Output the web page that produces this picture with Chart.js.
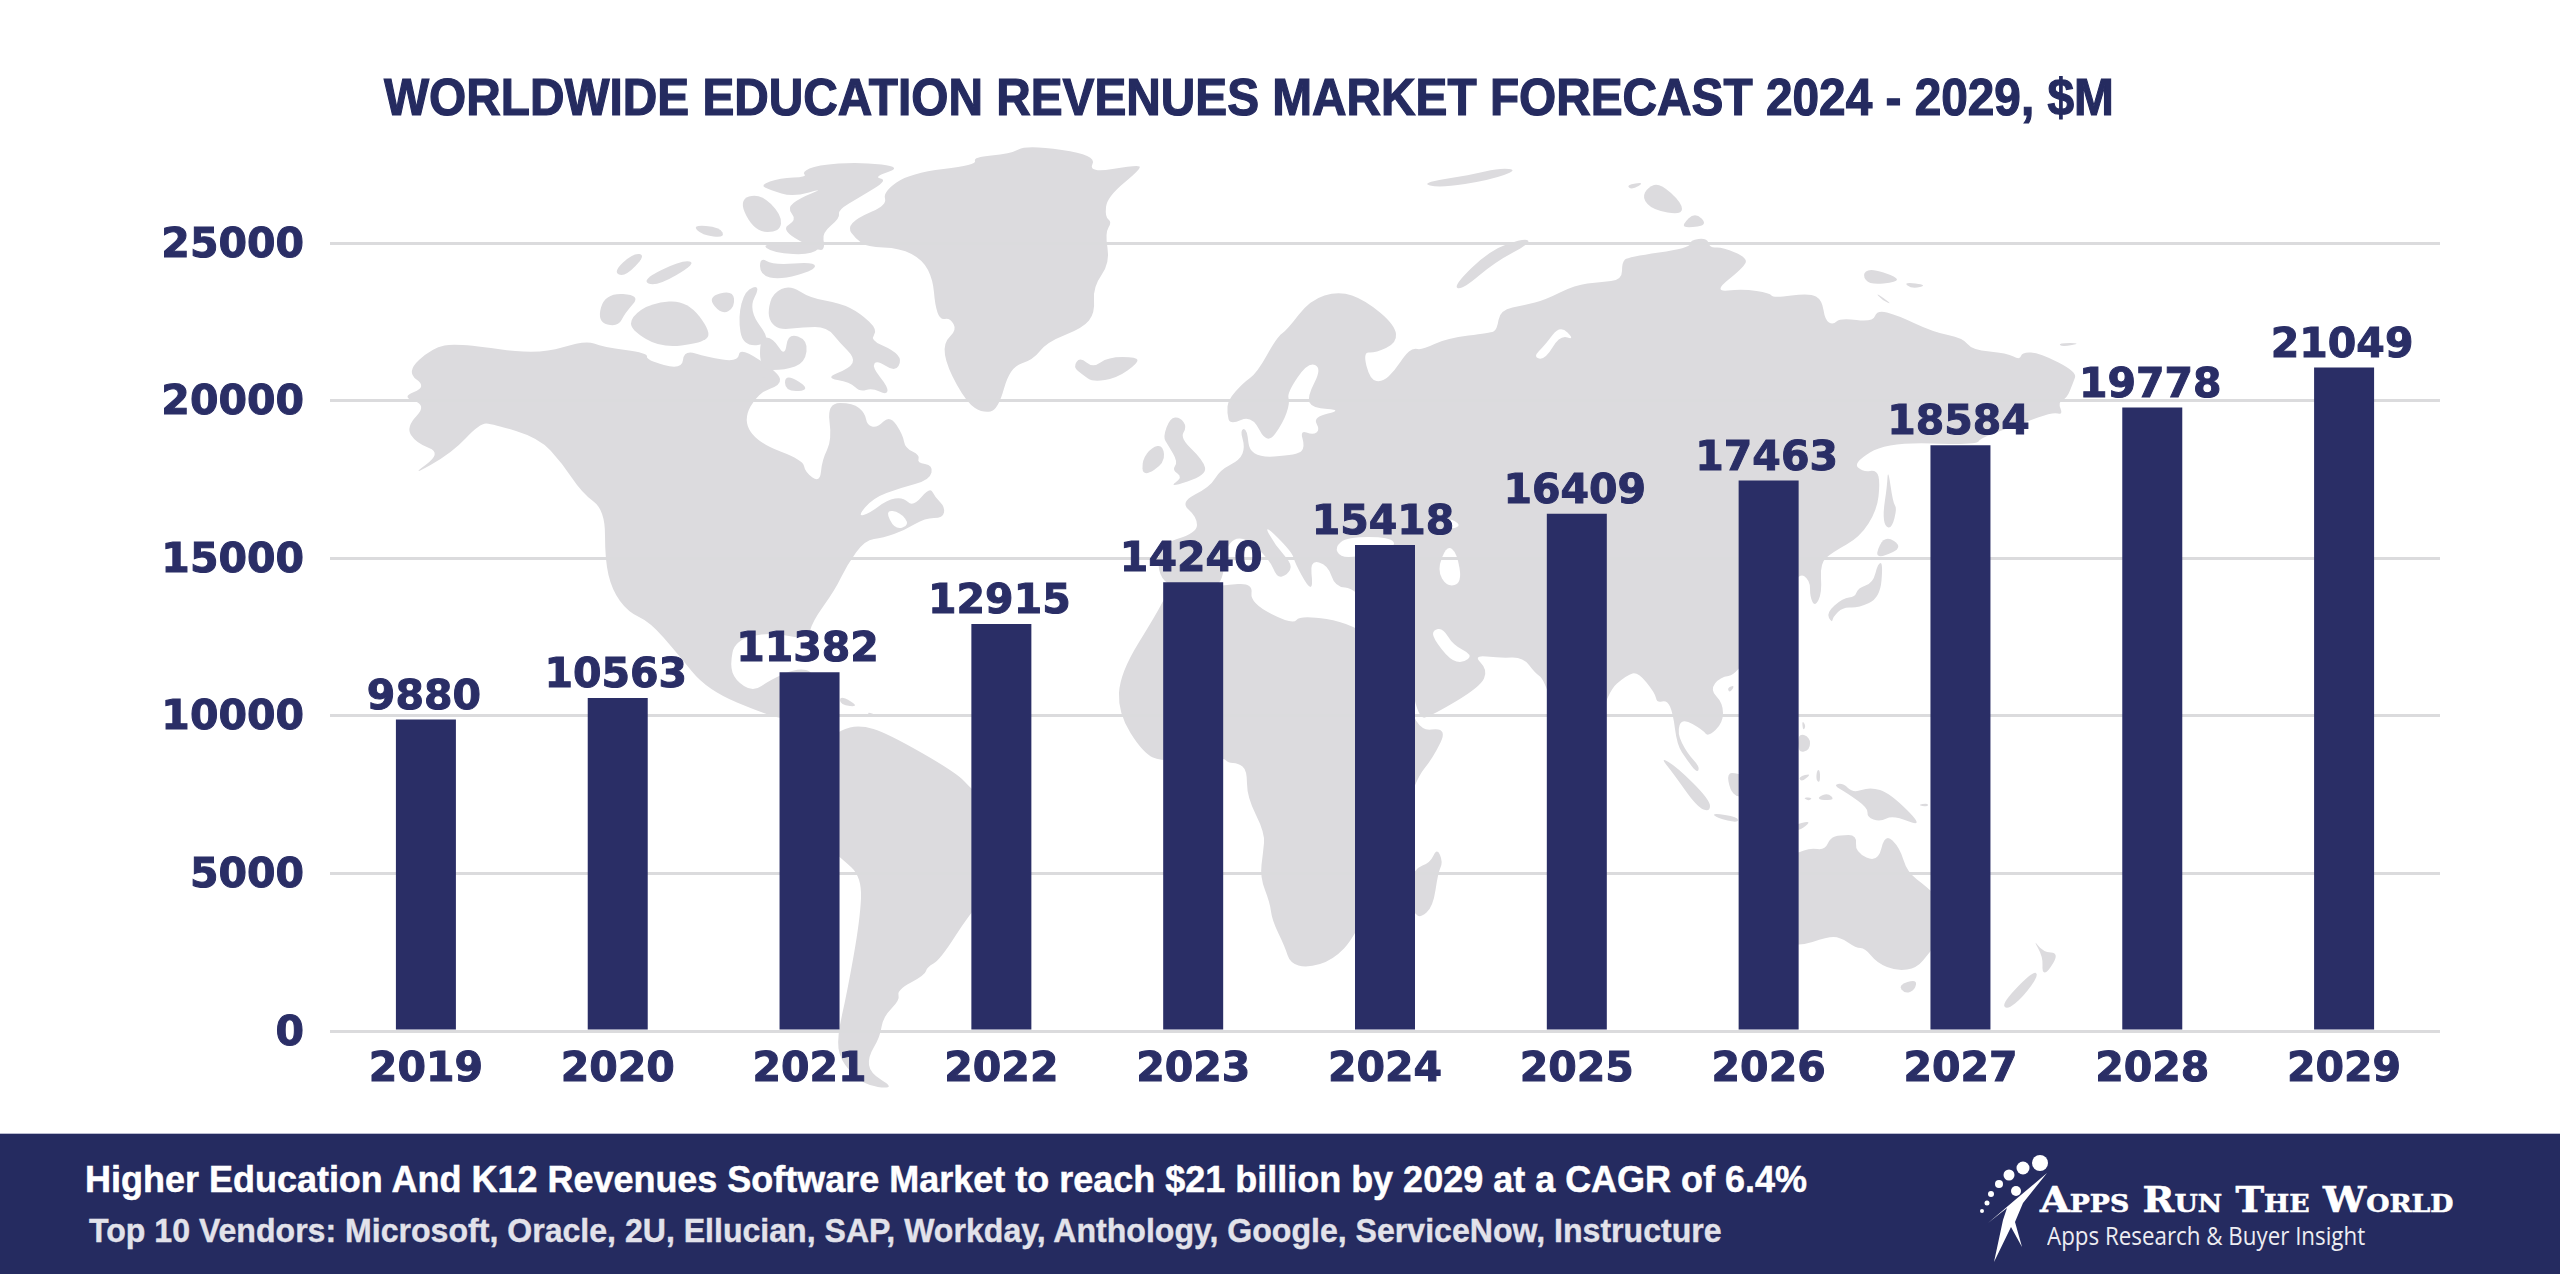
<!DOCTYPE html>
<html>
<head>
<meta charset="utf-8">
<title>Worldwide Education Revenues Market Forecast</title>
<script src="https://cdn.jsdelivr.net/npm/chart.js@4"></script>
<style>
  html, body { margin: 0; padding: 0; background: #fff; }
  #page { position: relative; width: 2560px; height: 1274px; overflow: hidden; background: #fff; }
  #chart { position: absolute; left: 0; top: 0; }
  .fit { position: absolute; white-space: nowrap; transform-origin: left center; }
  #title { left: 384px; top: 67px; font: bold 52px/60px "Liberation Sans", sans-serif; color: #252B60; -webkit-text-stroke: 1.2px #252B60; }
  #band { position: absolute; left: 0; top: 1133px; width: 2560px; height: 141px; background: #252B60; border-top: 1px solid #b9bbd0; box-sizing: border-box; }
  #line1 { left: 85px; top: 1158px; font: bold 37px/44px "Liberation Sans", sans-serif; color: #fff; -webkit-text-stroke: 0.5px #fff; }
  #line2 { left: 89px; top: 1208px; font: bold 34px/44px "Liberation Sans", sans-serif; color: #E2E2EA; -webkit-text-stroke: 0.4px #E2E2EA; }
  #brand { left: 2040px; top: 1178px; font: bold 36px/42px "DejaVu Serif", serif; font-variant: small-caps; color: #fff; -webkit-text-stroke: 0.6px #fff; }
  #tagline { left: 2047px; top: 1218px; font: 26px/34px "Open Sans", sans-serif; color: #EDEDF2; }
  #logo { position: absolute; left: 0; top: 0; }
</style>
</head>
<body>
<div id="page">
  <canvas id="chart" width="2560" height="1274"></canvas>
  <div class="fit" id="title" data-w="1730">WORLDWIDE EDUCATION REVENUES MARKET FORECAST 2024 - 2029, $M</div>
  <div id="band"></div>
  <div class="fit" id="line1" data-w="1722">Higher Education And K12 Revenues Software Market to reach $21 billion by 2029 at a CAGR of 6.4%</div>
  <div class="fit" id="line2" data-w="1633">Top 10 Vendors: Microsoft, Oracle, 2U, Ellucian, SAP, Workday, Anthology, Google, ServiceNow, Instructure</div>
  <svg id="logo" width="2560" height="1274" fill="#fff">
    <circle cx="2040" cy="1163" r="8"/><circle cx="2023" cy="1168" r="6.5"/><circle cx="2009" cy="1175" r="5.5"/>
    <circle cx="1999" cy="1184" r="4"/><circle cx="1991" cy="1194" r="3"/><circle cx="1987" cy="1203" r="2.5"/>
    <circle cx="1982" cy="1211" r="2"/><circle cx="2016" cy="1191" r="5"/>
    <polygon points="2047,1173 2023,1203 2015,1222 2022,1247 2011,1227 1994,1262 2003,1220 2007,1208 1988,1223 2015,1200"/>
  </svg>
  <div class="fit" id="brand" data-w="413">Apps Run The World</div>
  <div class="fit" id="tagline" data-w="318">Apps Research &amp; Buyer Insight</div>
</div>

<script>
// Chart data
const years = ['2019', '2020', '2021', '2022', '2023', '2024', '2025', '2026', '2027', '2028', '2029'];
const revenues = [9880, 10563, 11382, 12915, 14240, 15418, 16409, 17463, 18584, 19778, 21049];
const yTicks = [0, 5000, 10000, 15000, 20000, 25000];

const NAVY = '#2A2E66';
const LABEL_FONT = 'bold 41px "DejaVu Sans"';

// Backdrop map, page pixels, traced by hand. Decoration only, not data.
const landShapes = [
  // North America
  [406,372,432,348,457,343,539,355,585,340,603,347,648,353,646,360,682,370,684,350,707,357,738,362,740,347,779,373,781,385,758,393,743,420,758,443,803,460,805,472,820,483,822,460,832,440,827,403,853,403,865,413,867,425,877,428,890,415,903,435,905,448,920,455,917,463,933,465,930,480,900,488,873,498,857,517,870,513,887,500,903,497,913,507,930,487,935,497,945,507,943,518,925,518,905,530,883,538,865,540,847,565,835,590,812,622,808,640,770,632,735,640,730,665,735,680,753,692,770,680,797,668,815,672,815,700,790,720,767,715,707,690,677,653,650,622,628,612,612,590,605,560,605,510,582,493,562,463,539,438,493,424,480,423,452,453,409,477,442,453,416,443,406,427,427,405,401,397,427,387],
  // Arctic Canada
  [768,310,773,293,790,285,810,298,840,303,860,313,878,330,870,340,893,350,902,360,895,372,877,360,872,367,888,387,887,395,872,388,860,392,850,382,825,378,850,368,855,358,840,343,827,327,803,327,780,330,770,322],
  [760,185,780,178,807,177,802,172,817,165,860,162,903,167,873,177,888,180,860,197,838,210,840,218,822,233,825,247,820,252,780,230,797,220,787,208,800,198,825,188,793,197,770,190],
  [760,257,773,265,815,262,815,270,780,280,760,275],
  [597,322,605,293,641,295,625,313,618,327],
  [631,317,651,303,687,300,712,333,702,343,661,348,631,330],
  [641,280,682,260,697,263,656,287],
  [613,272,633,253,646,255,625,277],
  [692,225,720,227,725,238,702,235],
  [707,297,733,290,735,307,722,315],
  [745,290,761,285,748,310,773,343,743,347,738,317],
  [785,373,812,390,785,392],
  [760,337,773,338,785,357,788,333,808,340,805,363,785,370,760,370],
  [760,375,780,383,760,390],
  [738,200,760,193,782,215,780,232,755,232],
  [760,243,823,243,813,255,773,253],
  // Greenland, Iceland, British Isles
  [848,228,857,218,887,205,883,192,910,173,977,165,973,157,1010,154,1027,145,1097,155,1088,173,1137,165,1142,168,1107,197,1105,217,1112,222,1105,233,1110,263,1093,287,1095,313,1083,328,1047,342,1033,360,1010,367,998,410,983,413,967,403,947,367,943,343,957,330,950,318,940,320,935,305,933,280,923,260,900,248,867,247,855,238],
  [1073,367,1080,357,1093,368,1108,357,1137,357,1138,363,1117,378,1093,382,1083,375],
  [1142,460,1152,447,1163,445,1165,463,1143,477],
  [1163,437,1170,418,1180,417,1187,427,1180,438,1203,460,1207,475,1168,488,1183,477,1172,470,1178,462,1168,445],
  // Eurasia
  [1227,413,1228,400,1243,383,1257,373,1277,337,1287,330,1310,300,1339,291,1365,300,1395,325,1397,343,1375,353,1363,352,1370,380,1383,382,1395,370,1405,355,1413,348,1422,350,1447,338,1490,333,1497,330,1500,310,1525,305,1545,300,1575,285,1600,282,1622,280,1622,262,1628,257,1690,248,1690,240,1707,238,1710,248,1722,247,1748,258,1743,268,1713,292,1743,289,1770,293,1773,298,1810,293,1822,300,1825,320,1833,325,1840,318,1873,322,1877,310,1897,315,1933,332,1963,338,1972,350,2007,353,2020,360,2022,352,2040,353,2077,372,2073,383,2067,398,2058,402,2063,415,2053,412,2023,423,1980,438,1977,445,1887,442,1853,463,1863,472,1877,470,1880,483,1877,510,1860,537,1833,552,1820,563,1822,593,1815,607,1810,597,1810,580,1798,572,1770,620,1737,675,1720,677,1710,690,1723,703,1723,723,1708,737,1703,730,1682,718,1677,733,1687,753,1700,767,1697,773,1687,760,1677,745,1673,713,1667,700,1657,703,1655,693,1638,672,1627,675,1607,692,1590,760,1570,760,1545,680,1535,673,1523,657,1500,658,1473,655,1488,670,1480,687,1433,715,1417,720,1405,640,1355,588,1335,587,1328,565,1310,560,1313,587,1308,587,1295,563,1292,552,1263,523,1275,545,1293,565,1287,575,1277,578,1270,560,1243,535,1225,545,1223,585,1200,590,1160,585,1157,545,1197,533,1197,517,1180,502,1210,487,1220,470,1240,460,1245,447,1240,430,1247,428,1250,458,1298,455,1305,447,1300,430,1313,435,1320,430,1313,417,1343,410,1312,408,1307,397,1322,368,1308,362,1287,393,1290,403,1283,423,1267,445,1252,415,1230,425],
  // Arctic Russia
  [1642,198,1648,187,1660,183,1682,203,1682,215,1653,210],
  [1626,185,1645,182,1632,190],
  [1682,225,1695,212,1708,225,1687,228],
  [1862,275,1870,268,1897,277,1897,282,1870,285],
  [1903,282,1928,285,1912,289],
  [1875,292,1893,305,1882,300],
  [2058,343,2082,343,2062,347],
  [1453,286,1490,250,1525,238,1531,243,1495,262,1462,290],
  [1420,183,1470,175,1500,168,1518,170,1490,180,1440,188],
  // Japan, Sakhalin, Taiwan
  [1888,468,1893,503,1897,508,1892,528,1885,527,1883,513,1887,487],
  [1875,555,1885,535,1903,547,1883,557],
  [1878,563,1883,563,1880,598,1858,608,1843,607,1833,617,1832,623,1826,613,1843,598,1855,597,1858,588,1873,583],
  [1727,688,1735,685,1730,693],
  // Africa and Madagascar
  [1167,593,1223,585,1253,583,1250,603,1293,625,1300,615,1353,623,1400,660,1415,732,1448,727,1433,758,1415,780,1390,860,1355,937,1333,960,1307,968,1290,963,1285,947,1272,920,1270,903,1260,877,1263,853,1265,833,1247,797,1247,770,1238,763,1228,763,1223,757,1163,762,1143,753,1118,713,1120,673,1157,613],
  [1415,868,1430,863,1437,848,1443,862,1438,873,1433,907,1420,918,1415,913,1400,900],
  // South America and the Caribbean
  [840,730,860,725,887,733,957,773,972,790,1010,820,1000,880,970,913,940,960,927,967,925,975,897,990,900,1000,883,1017,880,1037,868,1057,870,1073,893,1087,880,1088,860,1082,840,1060,837,1037,847,993,860,920,862,877,840,857,830,850,830,740],
  [840,695,860,707,840,705],
  [867,712,877,715,870,716],
  // South East Asia and Oceania
  [1660,757,1677,767,1710,800,1710,812,1697,807,1673,773],
  [1712,813,1738,817,1738,823,1717,818],
  [1790,826,1813,820,1798,832],
  [1727,773,1737,773,1760,780,1760,800,1737,797,1730,790],
  [1798,733,1810,737,1810,750,1798,753],
  [1802,720,1806,726,1803,731],
  [1798,777,1812,773,1802,782],
  [1817,770,1820,770,1820,783,1816,780],
  [1803,797,1813,798,1808,801],
  [1818,797,1828,793,1835,800,1820,800],
  [1833,785,1843,783,1853,793,1870,787,1890,793,1925,828,1893,815,1880,822,1867,817,1868,808,1847,793],
  [1917,805,1928,803,1928,807],
  [1798,853,1810,848,1825,850,1830,838,1840,835,1857,835,1855,852,1878,863,1885,833,1900,848,1907,872,1927,887,1940,900,1940,940,1929,953,1917,968,1897,971,1877,963,1865,948,1856,948,1840,937,1827,937,1798,947,1760,940,1745,880,1770,860],
  [1898,985,1917,979,1915,990,1905,994],
  [2033,939,2043,952,2059,953,2048,972,2042,973,2043,957],
  [2033,971,2039,975,2023,997,2007,1010,2002,1003]
];

// Seas and lakes that sit inside the land shapes
const waterShapes = [
  [1335,547,1347,537,1390,537,1397,547,1357,557,1340,557],
  [1437,570,1447,545,1457,553,1462,583,1447,587],
  [1447,517,1462,525,1450,530],
  [1433,630,1443,628,1453,645,1473,655,1463,663,1450,660,1433,638],
  [1533,357,1545,360,1560,335,1575,340,1560,325,1545,345],
  [885,510,900,512,910,525,895,530]
];

function traceShape(ctx, pts) {
  // rounded outline through the midpoints of the traced points
  const n = pts.length / 2;
  const px = i => pts[(i % n) * 2];
  const py = i => pts[(i % n) * 2 + 1];
  ctx.beginPath();
  ctx.moveTo((px(0) + px(1)) / 2, (py(0) + py(1)) / 2);
  for (let i = 1; i <= n; i++) {
    ctx.quadraticCurveTo(px(i), py(i), (px(i) + px(i + 1)) / 2, (py(i) + py(i + 1)) / 2);
  }
  ctx.closePath();
  ctx.fill();
}

// Map goes under the grid lines
const worldMap = {
  id: 'worldMap',
  beforeDraw(chart) {
    const ctx = chart.ctx;
    ctx.save();
    ctx.fillStyle = '#DCDBDE';
    landShapes.forEach(s => traceShape(ctx, s));
    ctx.fillStyle = '#ffffff';
    waterShapes.forEach(s => traceShape(ctx, s));
    ctx.restore();
  }
};

// Value above each bar
const barLabels = {
  id: 'barLabels',
  afterDatasetsDraw(chart) {
    const ctx = chart.ctx;
    ctx.save();
    ctx.font = LABEL_FONT;
    ctx.fillStyle = NAVY;
    ctx.strokeStyle = NAVY;
    ctx.lineWidth = 1;
    ctx.textAlign = 'center';
    ctx.textBaseline = 'alphabetic';
    chart.getDatasetMeta(0).data.forEach((bar, i) => {
      const text = String(revenues[i]);
      ctx.fillText(text, bar.x - 2, bar.y - 11);
      ctx.strokeText(text, bar.x - 2, bar.y - 11);
    });
    ctx.restore();
  }
};

// Digits in the picture sit a little below the grid line centre
const nudgeYLabels = {
  id: 'nudgeYLabels',
  afterLayout(chart) {
    chart.scales.y.getLabelItems().forEach(item => { item.options.translation[1] += 3; });
  }
};

const tickFont = { family: 'DejaVu Sans', weight: 'bold', size: 41 };

new Chart(document.getElementById('chart'), {
  type: 'bar',
  data: {
    labels: years,
    datasets: [{
      data: revenues,
      backgroundColor: NAVY,
      categoryPercentage: 1,
      barPercentage: 0.3128
    }]
  },
  options: {
    responsive: false,
    animation: false,
    devicePixelRatio: 1,
    layout: { padding: { left: 0, right: 120, top: 243, bottom: 0 } },
    plugins: { legend: { display: false }, tooltip: { enabled: false } },
    scales: {
      x: {
        afterFit(axis) { axis.height = 243; },
        grid: { display: false },
        border: { display: false },
        ticks: { color: NAVY, font: tickFont, padding: 7, maxRotation: 0, textStrokeColor: NAVY, textStrokeWidth: 1 }
      },
      y: {
        min: 0,
        max: 25000,
        afterFit(axis) { axis.width = 330; },
        afterBuildTicks(axis) { axis.ticks = yTicks.map(value => ({ value })); },
        grid: { color: '#DBDBDD', lineWidth: 3, drawTicks: false },
        border: { display: false },
        ticks: {
          color: NAVY,
          font: tickFont,
          padding: 26,
          textStrokeColor: NAVY,
          textStrokeWidth: 1,
          callback: value => String(value)
        }
      }
    }
  },
  plugins: [worldMap, barLabels, nudgeYLabels]
});

// Squeeze the page text to the widths in the picture
document.querySelectorAll('.fit').forEach(el => {
  el.style.transform = `scaleX(${el.dataset.w / el.offsetWidth})`;
});
</script>
</body>
</html>
